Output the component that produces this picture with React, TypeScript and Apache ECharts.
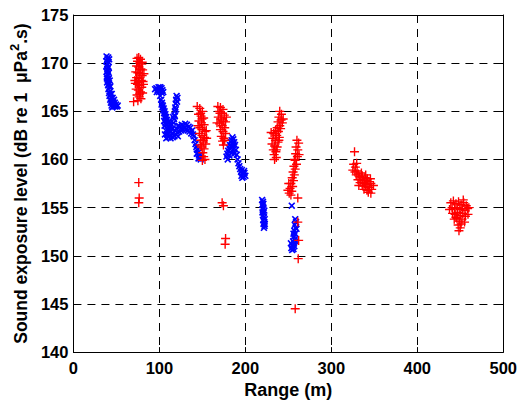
import React, { useEffect, useRef } from "react";
import * as echarts from "echarts";

const xTicks = [0, 100, 200, 300, 400, 500];
const yTicks = [140, 145, 150, 155, 160, 165, 170, 175];

// Blue "x" markers: [range (m), SEL (dB)]
const blueCluster40: number[][] = [
  [38.5,170.7],[40.5,170.6],[39.5,170.4],[38.2,170.2],[41.0,170.1],[39.6,169.9],[38.4,169.7],[40.8,169.6],
  [39.4,169.4],[38.6,169.1],[41.2,169.0],[39.8,168.8],[38.8,168.6],[41.0,168.4],[40.0,168.2],[39.2,168.0],
  [41.5,167.9],[40.3,167.7],[42.0,167.5],[40.8,167.3],[42.6,167.1],[41.4,166.9],[43.3,166.8],[42.0,166.6],
  [44.0,166.4],[42.8,166.2],[44.8,166.1],[43.6,165.9],[45.6,165.8],[44.4,165.6],[46.5,165.5],[45.2,165.4],
  [47.5,165.6],[48.5,165.5],[49.5,165.7],[50.5,165.5],[51.5,165.6],[46.2,166.0],[47.2,166.2],[48.2,165.9],
  [44.6,166.8],[45.6,166.4],[40.2,169.2],[39.0,168.4],[42.2,168.2],[43.0,167.6],[41.6,170.4]
];
const blueCluster100: number[][] = [
  [95,167.3],[96.5,167.4],[98,167.2],[99,167.5],[100.5,167.3],[101.5,167.1],[102.5,167.4],[103.5,167.2],
  [104.5,167.0],[97,167.0],[99.5,167.0],[101,167.5],[103,166.9]
];
const blueV: number[][] = [
  [101.0,166.6],[102.0,166.2],[103.0,165.9],[104.0,165.6],[105.0,165.3],[106.0,165.0],[107.0,164.7],[108.0,164.4],
  [109.0,164.1],[110.0,163.8],[103.5,165.4],[105.5,164.8],[107.5,164.1],[102.5,165.7],[104.5,165.1],[106.5,164.4],
  [120,166.6],[119.5,166.2],[119,165.8],[118.5,165.4],[118,165.0],[117.5,164.6],[117,164.2],[116.5,163.8],
  [120.5,166.0],[119.0,165.2],[118.0,164.5],[121,166.4],[116,164.4],
  [106,163.5],[107.5,163.0],[109,162.6],[110.5,162.3],[112,162.5],[113.5,162.9],[115,163.2],[116,162.7],
  [117.5,162.4],[108,162.2],[111,163.3],[113,162.2],[114.5,163.6],[106.5,162.6],[109.5,163.6],[111.5,164.0],
  [112.5,163.6],[115.5,162.3],[118.5,163.0],[105.5,164.0],[107,163.8],[110,163.0],[119.5,162.6],[121.5,162.4],
  [120,163.2],[122,163.5],[124,163.4],[126,163.6],[128,163.5],[130,163.7],[132,163.6],[134,163.4],
  [136,163.3],[138,163.0],[121,162.8],[123,162.9],[125,163.0],[127,163.1],[129,163.2],[131,163.1],
  [133,163.0],[135,162.9],[137,162.7],[139,162.6],
  [140,162.4],[141,162.0],[142,161.6],[143,161.3],[144,161.0],[145,160.7],[146,160.4],[147,160.2],
  [145.5,160.1],[147.5,160.5],[143.5,160.6],[148,160.0]
];
const blueCluster185: number[][] = [
  [178,160.3],[179,160.6],[180,160.9],[181,161.2],[182,161.5],[183,161.8],[184,162.0],[185,162.3],
  [186,162.1],[187,161.8],[188,161.5],[189,161.0],[190,160.5],[179.5,160.0],[181.5,160.4],[183.5,160.7],
  [185.5,161.0],[187,160.6],[184,161.3],[186,161.5],[191,160.0],[192,159.6],[193,159.3],[194,159.0],
  [195,158.7],[196,158.9],[197,158.5],[198,158.2],[199,158.6],[200,158.3],[196.5,158.1],[198.5,158.8],
  [195.5,158.3]
];
const blueCluster220: number[][] = [
  [219.5,155.8],[220.5,155.6],[219.8,155.3],[221,155.0],[220.2,154.8],[221.3,154.5],[220.5,154.2],[221.7,154.0],
  [220.8,153.7],[222,153.5],[221.2,153.3],[222.3,153.1],[221.6,152.9],[222.5,153.8],[219.9,154.5],[222.1,154.7],
  [221.0,155.4],[222.6,153.3]
];
const blueCluster257: number[][] = [
  [254,155.2],
  [258,153.8],[259,153.5],[257.5,153.2],[258.5,152.9],[257,152.6],[258,152.3],[256.5,152.0],[257.5,151.7],
  [255.5,151.5],[256.5,151.3],[254.5,151.1],[255.5,150.9],[257,151.0],[253.5,150.8],[254.5,150.6],[256,150.7],
  [258.5,151.5],[259.5,152.8],[253,151.3],[256,152.3]
];

// Red "+" markers
const redCluster75: number[][] = [
  [76,170.6],[78,170.4],[74.5,170.2],[77,170.0],[79.5,169.9],[73.5,169.7],[76,169.6],[78.5,169.4],
  [80.5,169.3],[72.5,169.1],[75,169.0],[77.5,168.9],[80,168.7],[73.5,168.5],[76.5,168.4],[79,168.2],
  [81,168.1],[72,167.9],[74.5,167.8],[77,167.7],[79.5,167.5],[73,167.3],[75.5,167.2],[78,167.0],
  [80.5,166.9],[74,166.7],[76.5,166.5],[78.5,166.3],[75,166.1],[77,166.8],[70,166.0],[82,168.9],
  [71.5,168.2],[80,170.1],[81.5,167.8],[75.5,168.0],[77.5,169.3],[74,170.5],
  [76,157.6],[76.5,156.0],[76,155.5]
];
const redCluster150: number[][] = [
  [144,165.5],[147,165.3],[150,165.0],[145.5,164.7],[148.5,164.5],[151.5,164.3],[146,164.0],[149,163.8],
  [152,163.6],[147,163.3],[150,163.1],[153,162.9],[146.5,162.7],[149.5,162.5],[152.5,162.3],[148,162.0],
  [151,161.8],[154,161.6],[149,161.3],[152,161.1],[150.5,160.7],[151.5,160.3],[150,159.9],[153,160.0],
  [147.5,161.5],[155,162.2],[145,163.5],[154.5,163.0],[148,164.8],[151,162.0],[149.5,164.2]
];
const redCluster173: number[][] = [
  [168,165.5],[171,165.4],[174,165.2],[169.5,165.0],[172.5,164.8],[175.5,164.6],[168.5,164.4],[171.5,164.2],
  [174.5,164.0],[177,163.9],[170,163.7],[173,163.5],[176,163.3],[171,163.1],[174,162.9],[177,162.7],
  [172,162.4],[175,162.2],[173.5,161.9],[174.5,161.5],[176,162.0],[170.5,164.8],[178,164.4],[172.5,163.9],
  [167,163.8],
  [173,155.5],[174.5,155.2],[177,151.8],[176.5,151.2]
];
const redCluster237: number[][] = [
  [240,165.0],[242,164.7],[239,164.4],[241.5,164.1],[238,163.9],[243,163.8],[240,163.5],[237,163.3],
  [241,163.2],[235,163.0],[238.5,162.9],[233,162.7],[236.5,162.5],[239.5,162.3],[232,162.2],[235,162.0],
  [238,161.8],[231,161.6],[234,161.4],[237,161.3],[232.5,161.0],[235.5,160.8],[233.5,160.5],[236,160.2],
  [234,160.0],[230,162.8],[244,164.2],[236,161.0],[239,162.0]
];
const redCluster256: number[][] = [
  [260,162.0],[262,161.7],[259,161.3],[261,161.0],[258.5,160.6],[260.5,160.3],[258,159.9],[259.5,159.5],
  [256.5,159.3],[258,159.0],[255.5,158.7],[257,158.4],[254.5,158.1],[256,157.8],[253,157.5],[255,157.2],
  [252,157.0],[254,156.7],[251,156.5],[253,156.3],[249.5,156.8],[250.5,157.5],[257,160.0],[262.5,160.5],
  [261,156.0],[261,153.5],[262,151.6],[261.5,149.7],[258,144.5]
];
const redCluster335: number[][] = [
  [327,160.8],[326,159.5],[328,159.2],[325,158.9],[327.5,158.7],[330,158.8],[329,158.4],[331.5,158.5],
  [333,158.2],[331,157.9],[334.5,157.9],[336,158.3],[333.5,157.6],[337,157.8],[339,158.1],[336,157.3],
  [338.5,157.5],[341,157.8],[340,157.2],[342.5,157.4],[344,157.7],[338,156.9],[341.5,156.8],[344.5,157.1],
  [346,157.5],[343,156.6],[347,156.9],[349,157.3],[345.5,158.0],[335,158.6],[340,158.4],[332,157.3],
  [342,158.0],[329.5,159.6],[346,156.5]
];
const redCluster450: number[][] = [
  [439,155.5],[442,155.7],[445,155.4],[448,155.6],[451,155.3],[454,155.5],[457,155.2],[440.5,155.0],
  [443.5,154.9],[446.5,155.0],[449.5,154.8],[452.5,154.9],[455.5,154.7],[458.5,154.9],[441,154.4],[444,154.3],
  [447,154.5],[450,154.2],[453,154.4],[456,154.1],[459,154.3],[443,153.8],[446,153.9],[449,153.6],
  [452,153.8],[455,153.5],[447.5,153.2],[450,152.9],[448.5,152.6],[451,153.3],[437.5,154.8],[460,155.0],
  [445,154.0],[453.5,155.8]
];

const bluePoints = [
  ...blueCluster40, ...blueCluster100, ...blueV, ...blueCluster185, ...blueCluster220, ...blueCluster257,
];
const redPoints = [
  ...redCluster75, ...redCluster150, ...redCluster173, ...redCluster237, ...redCluster256,
  ...redCluster335, ...redCluster450,
];

const PLUS = "path://M7.2,0h2.6v17h-2.6zM0,7.2h17v2.6h-17z";
const CROSS = "path://M0,2.6L2.6,0L8,5.4L13.4,0L16,2.6L10.6,8L16,13.4L13.4,16L8,10.6L2.6,16L0,13.4L5.4,8Z";
const FONT = "'Liberation Sans', Arial, Helvetica, sans-serif";

export default function App() {
  const ref = useRef<HTMLDivElement>(null);
  useEffect(() => {
    document.body.style.margin = "0";
    if (!ref.current) return;
    const chart = echarts.init(ref.current, undefined, { renderer: "svg" });
    const labelStyle = { color: "#000", fontSize: 16.5, fontWeight: "bold" as const, fontFamily: FONT };
    const nameBase = { color: "#000", fontSize: 17.5, fontWeight: "bold" as const, fontFamily: FONT };
    chart.setOption({
      animation: false,
      backgroundColor: "#fff",
      grid: { left: 71, top: 15, right: 16, bottom: 50 },
      xAxis: [
        {
          type: "value", min: xTicks[0], max: xTicks[xTicks.length - 1], interval: 100,
          name: "Range (m)", nameLocation: "middle", nameGap: 26,
          nameTextStyle: { ...nameBase, fontSize: 18 },
          axisLine: { onZero: false, lineStyle: { color: "#000", width: 1 } },
          axisTick: { inside: true, length: 5, lineStyle: { color: "#000" } },
          axisLabel: { ...labelStyle, margin: 7 },
          splitLine: { show: true, lineStyle: { color: "#000", type: [8, 6], width: 1 } },
        },
        {
          type: "value", position: "top", min: xTicks[0], max: xTicks[xTicks.length - 1], interval: 100,
          axisLine: { onZero: false, lineStyle: { color: "#000", width: 1 } },
          axisTick: { inside: true, length: 5, lineStyle: { color: "#000" } },
          axisLabel: { show: false }, splitLine: { show: false },
        },
      ],
      yAxis: [
        {
          type: "value", min: yTicks[0], max: yTicks[yTicks.length - 1], interval: 5,
          name: "{a|Sound exposure level (dB re 1  μPa}{s|2}{a|.s)}",
          nameLocation: "middle", nameGap: 40,
          nameTextStyle: {
            ...nameBase,
            rich: {
              a: { ...nameBase, lineHeight: 22, verticalAlign: "bottom" },
              s: { ...nameBase, fontSize: 13, lineHeight: 22, verticalAlign: "top" },
            },
          },
          axisLine: { onZero: false, lineStyle: { color: "#000", width: 1 } },
          axisTick: { inside: true, length: 5, lineStyle: { color: "#000" } },
          axisLabel: { ...labelStyle, margin: 5 },
          splitLine: { show: true, lineStyle: { color: "#000", type: [8, 6], width: 1 } },
        },
        {
          type: "value", position: "right", min: yTicks[0], max: yTicks[yTicks.length - 1], interval: 5,
          axisLine: { onZero: false, lineStyle: { color: "#000", width: 1 } },
          axisTick: { inside: true, length: 5, lineStyle: { color: "#000" } },
          axisLabel: { show: false }, splitLine: { show: false },
        },
      ],
      series: [
        {
          type: "scatter", data: bluePoints, symbol: CROSS, symbolSize: 7,
          itemStyle: { color: "#0000ff", opacity: 1 },
        },
        {
          type: "scatter", data: redPoints, symbol: PLUS, symbolSize: 9,
          itemStyle: { color: "#ff0000", opacity: 1 },
        },
      ],
    });
    return () => chart.dispose();
  }, []);
  return <div ref={ref} style={{ width: 520, height: 404 }} />;
}
